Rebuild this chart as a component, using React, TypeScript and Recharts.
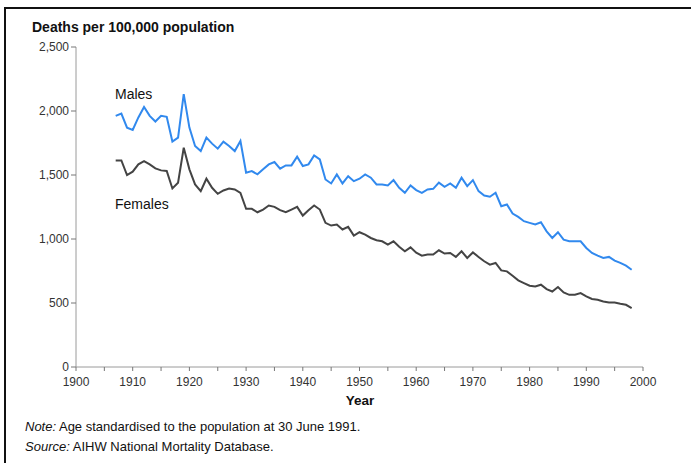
import React from 'react';
import { LineChart, Line, XAxis, YAxis, ReferenceDot } from 'recharts';

const START_YEAR = 1907;

// deaths per 100,000, age standardised, 1907–1998
const males = [
  1962, 1980, 1870, 1852, 1950, 2032, 1962, 1918, 1962, 1955,
  1761, 1792, 2132, 1870, 1727, 1687, 1792, 1745, 1706, 1761,
  1727, 1687, 1766, 1518, 1531, 1505, 1544, 1583, 1601, 1549,
  1575, 1575, 1643, 1570, 1583, 1653, 1622, 1465, 1434, 1505,
  1434, 1491, 1452, 1471, 1505, 1479, 1426, 1426, 1418, 1460,
  1400, 1361, 1418, 1382, 1361, 1387, 1392, 1440, 1408, 1434,
  1400, 1479, 1413, 1460, 1374, 1340, 1330, 1361, 1256, 1270,
  1199, 1173, 1139, 1126, 1113, 1131, 1060, 1008, 1053, 995,
  982, 982, 982, 930, 891, 870, 852, 860, 831, 813,
  792, 760,
];

const females = [
  1614, 1614, 1499, 1526, 1583, 1609, 1583, 1552, 1536, 1531,
  1395, 1440, 1713, 1544, 1426, 1374, 1471, 1400, 1353, 1379,
  1395, 1387, 1360, 1236, 1236, 1209, 1230, 1262, 1251, 1225,
  1209, 1230, 1251, 1183, 1225, 1262, 1230, 1126, 1105, 1113,
  1074, 1095, 1027, 1053, 1034, 1008, 990, 982, 956, 982,
  940, 904, 935, 893, 870, 878, 878, 912, 886, 891,
  860, 904, 852, 895, 860, 826, 800, 813, 755, 747,
  713, 677, 656, 635, 629, 643, 609, 590, 625, 582,
  564, 564, 577, 551, 531, 525, 512, 504, 504, 494,
  486, 460,
];

const xTicks = [1900, 1905, 1910, 1915, 1920, 1925, 1930, 1935, 1940, 1945, 1950, 1955, 1960, 1965, 1970, 1975, 1980, 1985, 1990, 1995, 2000];
const yTicks = [0, 500, 1000, 1500, 2000, 2500];

const data = males.map((m, i) => ({ year: START_YEAR + i, males: m, females: females[i] }));

const FONT = '"Liberation Sans", Arial, sans-serif';
const AXIS = '#9a9a9a';
const tickStyle = { fontSize: 12, fill: '#333', fontFamily: FONT };

export default function App() {
  return (
    <div style={{ position: 'fixed', left: 0, top: 0, width: 691, height: 463, background: '#fff', overflow: 'hidden', fontFamily: FONT }}>
      <div style={{ position: 'absolute', left: 4, top: 7, width: 720, height: 500, borderLeft: '2px solid #111', borderTop: '2px solid #111' }} />
      <div style={{ position: 'absolute', left: 32, top: 19, fontSize: 14, fontWeight: 'bold', color: '#111' }}>
        Deaths per 100,000 population
      </div>
      <LineChart
        width={691}
        height={463}
        data={data}
        margin={{ top: 47, right: 48, bottom: 66, left: 26 }}
        style={{ position: 'absolute', left: 0, top: 0 }}
      >
        <XAxis
          dataKey="year"
          type="number"
          domain={[1900, 2000]}
          ticks={xTicks}
          interval={0}
          tickFormatter={(v) => (v % 10 === 0 ? String(v) : '')}
          tick={tickStyle}
          tickSize={4}
          tickMargin={6}
          axisLine={{ stroke: AXIS }}
          tickLine={{ stroke: '#777' }}
          height={30}
        />
        <XAxis xAxisId="top" orientation="top" type="number" domain={[1900, 2000]} dataKey="year" tick={false} tickLine={false} axisLine={{ stroke: AXIS }} height={0} />
        <YAxis
          domain={[0, 2500]}
          ticks={yTicks}
          interval={0}
          tickFormatter={(v) => v.toLocaleString('en-US')}
          tick={tickStyle}
          tickSize={5}
          tickMargin={2}
          axisLine={{ stroke: AXIS }}
          tickLine={{ stroke: '#777' }}
          width={50}
        />
        <YAxis yAxisId="right" orientation="right" domain={[0, 2500]} tick={false} tickLine={false} axisLine={{ stroke: AXIS }} width={0} />
        <Line type="linear" dataKey="males" stroke="#3189ee" strokeWidth={2} dot={false} isAnimationActive={false} />
        <Line type="linear" dataKey="females" stroke="#444" strokeWidth={2} dot={false} isAnimationActive={false} />
        <ReferenceDot x={1906} y={2130} r={0} fill="none" stroke="none"
          label={{ value: 'Males', position: 'right', fontSize: 14, fill: '#111', fontFamily: FONT }} />
        <ReferenceDot x={1906} y={1270} r={0} fill="none" stroke="none"
          label={{ value: 'Females', position: 'right', fontSize: 14, fill: '#111', fontFamily: FONT }} />
      </LineChart>
      <div style={{ position: 'absolute', left: 335, top: 393, width: 50, textAlign: 'center', fontSize: 13.5, fontWeight: 'bold', color: '#111' }}>
        Year
      </div>
      <div style={{ position: 'absolute', left: 25, top: 419, fontSize: 13, color: '#111' }}>
        <i>Note:</i> Age standardised to the population at 30 June 1991.
      </div>
      <div style={{ position: 'absolute', left: 25, top: 439, fontSize: 13, color: '#111' }}>
        <i>Source:</i> AIHW National Mortality Database.
      </div>
    </div>
  );
}
